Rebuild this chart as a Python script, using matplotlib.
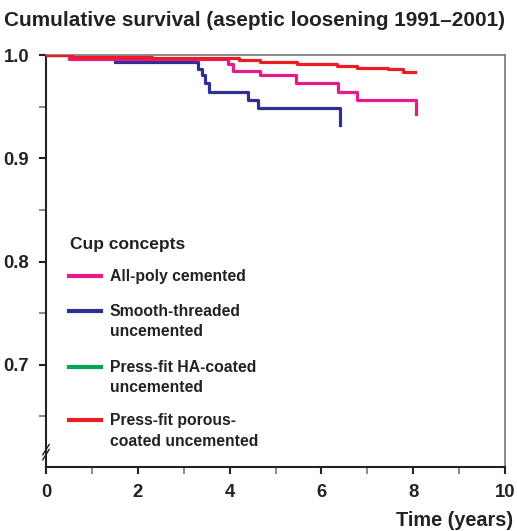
import matplotlib
matplotlib.use("Agg")
import matplotlib.pyplot as plt

plt.rcParams['font.family'] = ['Liberation Sans', 'DejaVu Sans']

# Data
pink_t = [0, 0.5, 3.97, 4.07, 4.66, 5.45, 6.36, 6.78, 8.06, 8.06]
pink_s = [1.0, 0.996, 0.991, 0.9845, 0.981, 0.973, 0.964, 0.9565, 0.9565, 0.943]

blue_t = [1.5, 3.31, 3.40, 3.46, 3.55, 4.40, 4.62, 6.41, 6.41]
blue_s = [0.993, 0.9865, 0.981, 0.973, 0.964, 0.956, 0.949, 0.949, 0.932]

green_t = [0, 0.5]
green_s = [1.0, 1.0]

red_t = [0, 0.57, 2.3, 4.2, 4.66, 5.47, 6.34, 6.78, 7.45, 7.78, 8.04]
red_s = [1.0, 0.9984, 0.9970, 0.9952, 0.9935, 0.9911, 0.9892, 0.9874, 0.9863, 0.9833, 0.9833]

labels = ["All-poly cemented", "Smooth-threaded\nuncemented",
          "Press-fit HA-coated\nuncemented", "Press-fit porous-\ncoated uncemented"]
colors = ["#E8198B", "#2E3192", "#00A651", "#ED1C24"]

xticks = [0, 2, 4, 6, 8, 10]
yticks = [0.7, 0.8, 0.9, 1.0]

W, H = 517, 531
fig = plt.figure(figsize=(W/100, H/100), dpi=100)
ax = fig.add_axes([46/W, 64/H, (505-46)/W, (467-55)/H])

series = [(pink_t, pink_s), (blue_t, blue_s), (green_t, green_s), (red_t, red_s)]
zorders = [4, 3, 2, 5]
for (t, s), c, z in zip(series, colors, zorders):
    ax.plot(t, s, drawstyle='steps-post', color=c, lw=2.3, zorder=z)

ax.set_xlim(0, 10)
ax.set_ylim(0.601, 1.0)
ax.set_xticks(xticks)
ax.set_xticklabels([str(v) for v in xticks])
ax.set_xticks([1, 3, 5, 7, 9], minor=True)
ax.set_yticks(yticks)
ax.set_yticklabels(["%.1f" % v for v in yticks])
ax.set_yticks([0.65, 0.75, 0.85, 0.95], minor=True)

for side in ['top', 'right']:
    ax.spines[side].set_color('#777777')
    ax.spines[side].set_linewidth(1.2)
for side in ['left', 'bottom']:
    ax.spines[side].set_color('#222222')
    ax.spines[side].set_linewidth(1.5)

ax.tick_params(axis='both', which='major', direction='out', length=5, width=1.5,
               color='#222222', labelsize=13.3, labelcolor='#222222', pad=7)
ax.tick_params(axis='both', which='minor', direction='out', length=5, width=1.2,
               color='#777777')
for lab in ax.get_xticklabels() + ax.get_yticklabels():
    lab.set_fontweight('bold')

# axis break marks
for dy in (0, 5):
    ax.plot([-0.07, 0.07], [0.608 + dy/1033, 0.618 + dy/1033],
            color='#222222', lw=1, clip_on=False, zorder=6)

fig.text(4/W, 1 - 20/H, "Cumulative survival (aseptic loosening 1991\u20132001)",
         fontsize=14.95, fontweight='bold', color='#222222', va='center', ha='left')
fig.text(513/W, 1 - 520/H, "Time (years)", fontsize=14.3, fontweight='bold',
         color='#222222', va='center', ha='right')

# legend (drawn manually so the swatch lines up with the first text line)
fig.text(70/W, 1 - 245/H, "Cup concepts", fontsize=12.5, fontweight='bold',
         color='#222222', va='center', ha='left')
entry_y = [276, 311, 367, 420]
line_gap = 21
for lab, c, y in zip(labels, colors, entry_y):
    fig.add_artist(plt.Line2D([69/W, 101/W], [1 - y/H, 1 - y/H], color=c, lw=3))
    for i, part in enumerate(lab.split("\n")):
        fig.text(110/W, 1 - (y + i*line_gap)/H, part, fontsize=11.3,
                 fontweight='bold', color='#222222', va='center', ha='left')

fig.savefig("out.png", dpi=100)
